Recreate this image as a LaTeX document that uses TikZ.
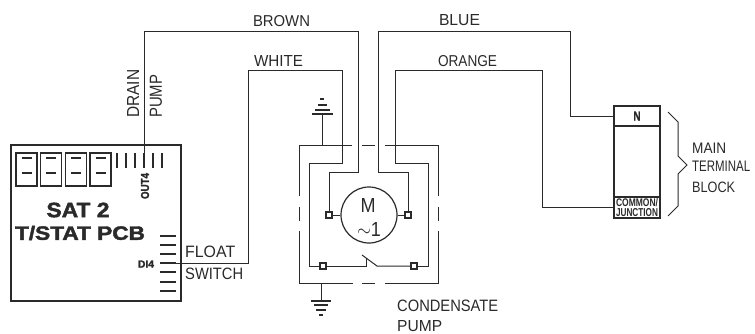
\documentclass[tikz,border=0pt]{standalone}
\usepackage{fontspec}
\usepackage{graphicx}
\setmainfont{Liberation Sans}
\newfontfamily\heavy[BoldFeatures={FakeBold=2}]{Liberation Sans}
\definecolor{ink}{HTML}{2A2A2A}
\newcommand{\sized}[3]{\resizebox{#1pt}{#2pt}{#3}}
\tikzset{
  wire/.style={draw=ink,line width=1pt,line join=miter},
  bar/.style={draw=ink,line width=1.4pt},
  lbl/.style={text=ink,inner sep=0pt},
  lbll/.style={lbl,anchor=west},
  term/.style={draw=ink,line width=1.1pt,fill=white,minimum size=6pt,inner sep=0pt},
  relay/.style={draw=ink,line width=1.1pt,minimum width=21pt,minimum height=33pt,inner sep=0pt},
}
\begin{document}
\begin{tikzpicture}[x=1pt,y=-1pt]
\useasboundingbox[fill=white] (0,0) rectangle (755,333);

% PCB
\node[draw=ink,line width=1.2pt,minimum width=170pt,minimum height=156pt,inner sep=0pt] (pcb) at (96,223) {};
\foreach \n/\x in {a/26.5,b/51,c/76,d/100.5}{
  \node[relay] (relay\n) at (\x,169.5) {};
  \draw[bar,line width=2pt] (\x-5,158)--(\x+5,158);
  \draw[bar,line width=2pt] (\x-5,173)--(\x+5,173);
}
\foreach \x in {117,126,135,153,162}{\draw[bar] (\x,153)--(\x,168);}
\coordinate (out4) at (144,168);
\draw[bar] (144,153)--(out4);
\foreach \y in {236,245,254,272,282,291}{\draw[bar] (160,\y)--(176,\y);}
\coordinate (di4s) at (160,263);
\coordinate (di4) at (176,263);
\draw[bar] (di4s)--(di4);
\node[lbl,rotate=90] (out4t) at (145,186) {\sized{26}{8}{\heavy\bfseries OUT4}};
\node[lbl] (di4t) at (146,264) {\sized{16}{7}{\heavy\bfseries DI4}};
\node[lbl] (sat) at (78,210) {\sized{63}{14.5}{\heavy\bfseries SAT 2}};
\node[lbl] (tstat) at (80,233) {\sized{130}{14}{\heavy\bfseries T/STAT PCB}};
\node[lbll] (float) at (185,252) {\sized{50}{11.5}{FLOAT}};
\node[lbll] (switch) at (185,274) {\sized{58}{11.5}{SWITCH}};
\node[lbl,rotate=90,anchor=west] (drain) at (133,118) {\sized{48}{12}{DRAIN}};
\node[lbl,rotate=90,anchor=west] (pumpv) at (156,118) {\sized{43}{12}{PUMP}};

% terminal block
\node[draw=ink,line width=1.2pt,minimum width=46pt,minimum height=112pt,inner sep=0pt] (tb) at (637,162) {};
\node[draw=ink,line width=1.1pt,minimum width=46pt,minimum height=20pt,inner sep=0pt,text=ink] (n) at (637,116) {\sized{7}{9}{\heavy\bfseries N}};
\node[draw=ink,line width=1.1pt,minimum width=46pt,minimum height=21pt,inner sep=0pt,text=ink] (cj) at (637,207.5) {};
\node[lbl] (cjt1) at (637,202.5) {\sized{42}{8}{\bfseries COMMON/}};
\node[lbl] (cjt2) at (637,212.5) {\sized{42}{8}{\bfseries JUNCTION}};
\draw[wire] (668,112)--(678,122)--(678,156)--(687,165)--(678,174)--(678,206)--(668,216);
\node[lbll] (main) at (692,148) {\sized{34}{10.5}{MAIN}};
\node[lbll] (terminal) at (692,166) {\sized{58}{10.5}{TERMINAL}};
\node[lbll] (block) at (692,187) {\sized{43}{10.5}{BLOCK}};

% pump enclosure
\coordinate (tl) at (299,145); \coordinate (tr) at (438,145);
\coordinate (bl) at (299,283); \coordinate (br) at (438,283);
\draw[wire] (352,145)--(tl)--(299,196);
\draw[wire] (385,145)--(tr)--(438,196);
\draw[wire] (353,283)--(bl)--(299,231);
\draw[wire] (385,283)--(br)--(438,231);
\draw[wire] (362,145)--(375,145) (362,283)--(375,283)
  (299,207)--(299,221) (438,207)--(438,221);

% motor and terminals
\node[draw=ink,line width=1.2pt,circle,minimum size=56pt,inner sep=0pt] (motor) at (369,215) {};
\node[lbl] (m) at (368,205) {\sized{15}{14}{M}};
\node[lbl] (one) at (369,229) {\sized{24}{14}{$\sim$1}};
\node[term] (tleft) at (329,215) {};
\node[term] (tright) at (408,215) {};
\node[term] (sleft) at (323,266) {};
\node[term] (sright) at (414,266) {};
\draw[wire] (tleft)--(motor) (motor)--(tright);

% switch
\coordinate (sw) at (366,266);
\coordinate (swr) at (377,266);
\draw[wire] (sleft)--(sw)--(366,258);
\draw[wire] (362,255)--(swr)--(sright);

% wires
\draw[wire] (out4)--(144,31)--(358,31)--(358,172)--(329,172)--(tleft);
\draw[wire] (tright)--(408,172)--(378,172)--(378,31)--(570,31)--(570,116)--(n.west);
\draw[wire] (di4)--(248,263)--(248,70)--(342,70)--(342,163)--(309,163)--(309,266)--(sleft);
\draw[wire] (sright)--(428,266)--(428,163)--(395,163)--(395,70)--(542,70)--(542,207.5)--(cj.west);

\node[lbl] (brown) at (281.5,21) {\sized{57}{11}{BROWN}};
\node[lbl] (white) at (278.5,61) {\sized{49}{11}{WHITE}};
\node[lbl] (blue) at (459.5,20) {\sized{41}{11}{BLUE}};
\node[lbl] (orange) at (467.5,61) {\sized{59}{11}{ORANGE}};
\node[lbll] (cond) at (397,306) {\sized{101}{11.5}{CONDENSATE}};
\node[lbll] (pumpl) at (397,326) {\sized{45}{11}{PUMP}};

% earths
\coordinate (gt) at (322,114);
\draw[wire] (322,145)--(gt);
\draw[bar] (312,114)--(333,114);
\draw[bar] (315,110)--(330,110);
\draw[bar] (318,105)--(327,105);
\draw[bar] (320,99)--(324,99);
\coordinate (gb) at (321,301);
\draw[wire] (321,283)--(gb);
\draw[bar] (311,301)--(331,301);
\draw[bar] (314,305)--(328,305);
\draw[bar] (316,310)--(326,310);
\draw[bar] (319,315)--(323,315);
\end{tikzpicture}
\end{document}
